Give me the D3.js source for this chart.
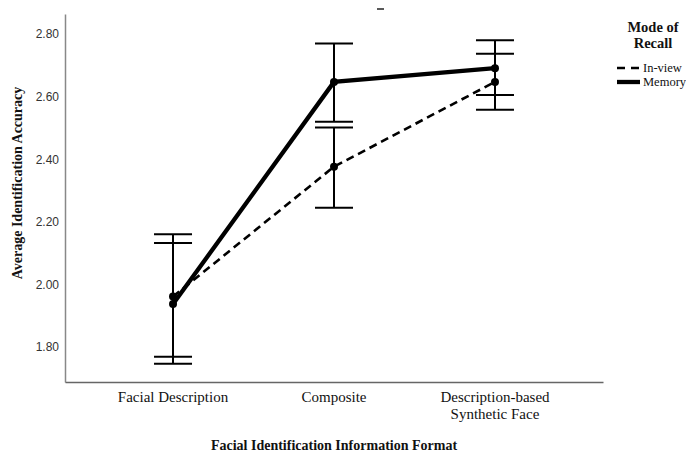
<!DOCTYPE html>
<html>
<head>
<meta charset="utf-8">
<script src="https://cdn.jsdelivr.net/npm/d3@7"></script>
<style>
  body { margin: 0; background: #fff; }
  svg { display: block; }
</style>
</head>
<body>
<svg id="chart" width="686" height="452"></svg>
<script>
// ---- data ----
const categories = ["Facial Description", "Composite", "Description-based\nSynthetic Face"];
const seriesNames = ["In-view", "Memory"];
const inViewMean = [1.961, 2.376, 2.647];
const inViewUpper = [2.160, 2.501, 2.737];
const inViewLower = [1.769, 2.245, 2.558];
const memoryMean = [1.937, 2.647, 2.691];
const memoryUpper = [2.132, 2.770, 2.780];
const memoryLower = [1.746, 2.520, 2.605];
const yTicks = [1.80, 2.00, 2.20, 2.40, 2.60, 2.80];

const series = [
  { name: seriesNames[0], mean: inViewMean, upper: inViewUpper, lower: inViewLower, dash: "8,5", width: 2.6 },
  { name: seriesNames[1], mean: memoryMean, upper: memoryUpper, lower: memoryLower, dash: null, width: 4.3 }
];

const svg = d3.select("#chart");
const plotLeft = 65, plotRight = 603, plotTop = 14, plotBottom = 382;

const x = d3.scalePoint().domain(categories).range([plotLeft, plotRight]).padding(0.671);
const y = d3.scaleLinear().domain([1.688, 2.864]).range([plotBottom, plotTop]);

// axes
const yAxis = svg.append("g").attr("transform", `translate(${plotLeft},0)`)
  .call(d3.axisLeft(y).tickValues(yTicks).tickFormat(d3.format(".2f")).tickSize(0).tickPadding(6));
yAxis.select(".domain").attr("stroke", "#888").attr("stroke-width", 1.5);
yAxis.selectAll("text").attr("font-family", "Liberation Sans, Arial, sans-serif").attr("font-size", 12).attr("fill", "#333");

const xAxis = svg.append("g").attr("transform", `translate(0,${plotBottom})`)
  .call(d3.axisBottom(x).tickSize(0).tickFormat(""));
xAxis.select(".domain").attr("stroke", "#666").attr("stroke-width", 1.5);

// x category labels (multi-line)
categories.forEach(c => {
  const lines = c.split("\n");
  const t = svg.append("text").attr("text-anchor", "middle")
    .attr("font-family", "Liberation Serif, Times New Roman, serif").attr("font-size", 15).attr("fill", "#111");
  lines.forEach((l, i) => {
    t.append("tspan").attr("x", x(c)).attr("y", 402 + i * 17).text(l);
  });
});

// axis titles
svg.append("text").attr("x", 334).attr("y", 450).attr("text-anchor", "middle")
  .attr("font-family", "Liberation Serif, Times New Roman, serif").attr("font-weight", "bold")
  .attr("font-size", 14).attr("fill", "#111").text("Facial Identification Information Format");
svg.append("text").attr("transform", "translate(22,183) rotate(-90)").attr("text-anchor", "middle")
  .attr("font-family", "Liberation Serif, Times New Roman, serif").attr("font-weight", "bold")
  .attr("font-size", 14).attr("fill", "#111").text("Average Identification Accuracy");

// small cut-off title mark
svg.append("line").attr("x1", 377).attr("x2", 384).attr("y1", 9).attr("y2", 9)
  .attr("stroke", "#222").attr("stroke-width", 1.5);

// error bars
const capHalf = 19;
series.forEach(s => {
  const g = svg.append("g");
  categories.forEach((c, i) => {
    const cx = x(c);
    g.append("line").attr("x1", cx).attr("x2", cx).attr("y1", y(s.upper[i])).attr("y2", y(s.lower[i]))
      .attr("stroke", "#000").attr("stroke-width", 2);
    [s.upper[i], s.lower[i]].forEach(v => {
      g.append("line").attr("x1", cx - capHalf).attr("x2", cx + capHalf).attr("y1", y(v)).attr("y2", y(v))
        .attr("stroke", "#000").attr("stroke-width", 2);
    });
  });
});

// lines and points
const lineGen = d3.line().x((d, i) => x(categories[i])).y(d => y(d));
series.forEach(s => {
  svg.append("path").datum(s.mean).attr("d", lineGen).attr("fill", "none")
    .attr("stroke", "#000").attr("stroke-width", s.width)
    .attr("stroke-dasharray", s.dash);
  svg.selectAll(null).data(s.mean).enter().append("circle")
    .attr("cx", (d, i) => x(categories[i])).attr("cy", d => y(d)).attr("r", 4).attr("fill", "#000");
});

// legend
const lg = svg.append("g");
lg.append("text").attr("x", 653).attr("y", 32).attr("text-anchor", "middle")
  .attr("font-family", "Liberation Serif, Times New Roman, serif").attr("font-weight", "bold")
  .attr("font-size", 14.5).attr("fill", "#111").text("Mode of");
lg.append("text").attr("x", 653).attr("y", 48).attr("text-anchor", "middle")
  .attr("font-family", "Liberation Serif, Times New Roman, serif").attr("font-weight", "bold")
  .attr("font-size", 14.5).attr("fill", "#111").text("Recall");
series.forEach((s, i) => {
  const ly = 68 + i * 14;
  lg.append("line").attr("x1", 617).attr("x2", 640).attr("y1", ly).attr("y2", ly)
    .attr("stroke", "#000").attr("stroke-width", s.width)
    .attr("stroke-dasharray", s.dash ? "8,6" : null);
  lg.append("text").attr("x", 643).attr("y", ly + 4)
    .attr("font-family", "Liberation Serif, Times New Roman, serif")
    .attr("font-size", 12.5).attr("fill", "#111").text(s.name);
});
</script>
</body>
</html>
